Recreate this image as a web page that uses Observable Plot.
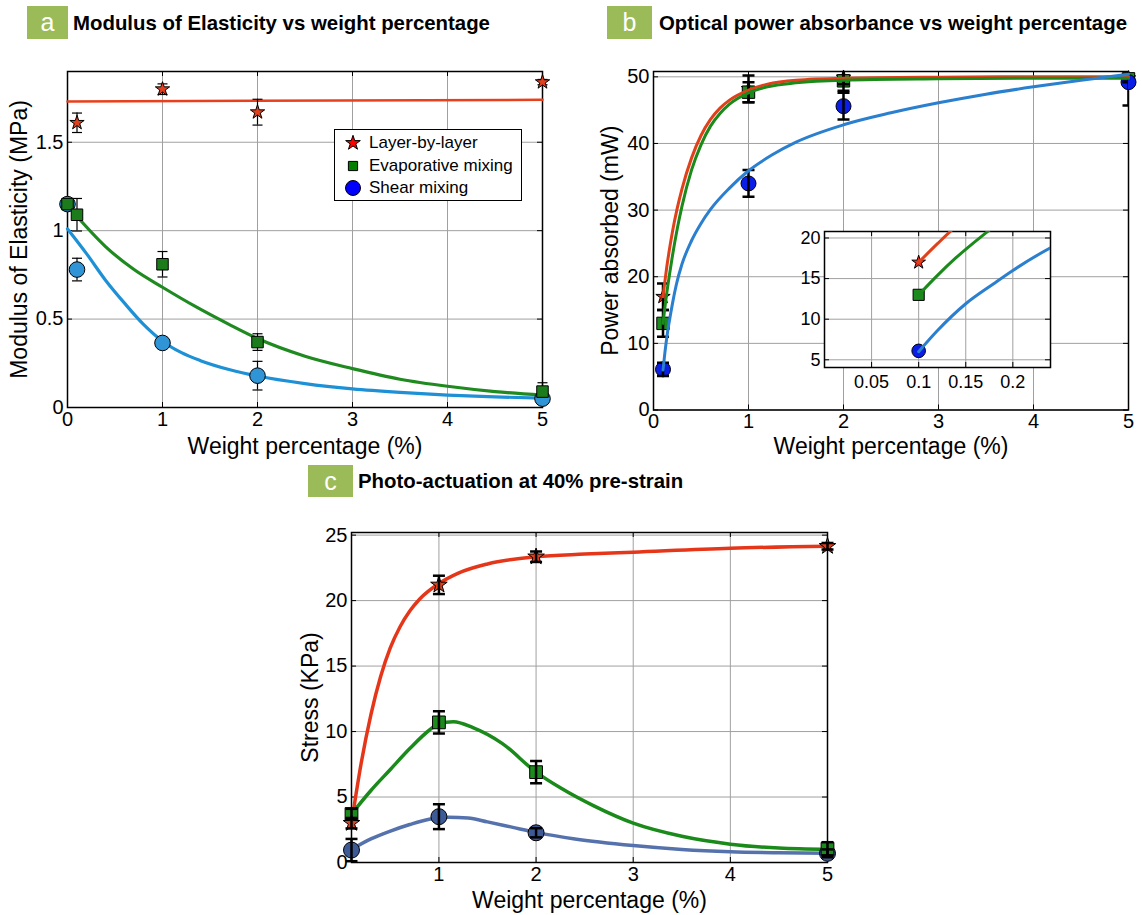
<!DOCTYPE html>
<html><head><meta charset="utf-8">
<script src="https://cdn.jsdelivr.net/npm/d3@7"></script>
<script src="https://cdn.jsdelivr.net/npm/@observablehq/plot@0.6"></script>
<style>
html,body{margin:0;padding:0;background:#fff}
#fig{position:relative;width:1142px;height:915px;overflow:hidden;background:#fff;font-family:"Liberation Sans",Arial,sans-serif}
.panel{position:absolute}
.panel svg{display:block;max-width:none;overflow:visible}
.tag{position:absolute;background:#9bbb59;color:#fff;font-size:25px;text-align:center}
.title{position:absolute;font-weight:bold;font-size:20.4px;color:#000;white-space:nowrap;line-height:22px}
.legend{position:absolute;border:1px solid #000;background:#fff;box-sizing:border-box;font-size:17px}
.legend .row{position:absolute;left:0;height:22px;line-height:22px;white-space:nowrap}
.legend svg{position:absolute;left:8px;top:1px}
.legend span{position:absolute;left:34px;top:0}
</style>
</head><body>
<div id="fig"></div>
<script>
// ---------- Panel a: Modulus of Elasticity ----------
const xTicksA = [0, 1, 2, 3, 4, 5];
const yTicksA = [0, 0.5, 1, 1.5];
const wtLblA = [0.1, 1, 2, 5];
const modLbl = [1.61, 1.80, 1.67, 1.84];
const modLblErr = [0.055, 0.03, 0.073, 0.015];
const wtMixA = [0, 0.1, 1, 2, 5];
const modEvap = [1.15, 1.09, 0.81, 0.37, 0.09];
const modEvapErr = [0, 0.092, 0.072, 0.047, 0.05];
const modShear = [1.15, 0.78, 0.365, 0.18, 0.05];
const modShearErr = [0, 0.064, 0.02, 0.081, 0.02];
const fitALblX = [0, 5];
const fitALblY = [1.73, 1.74];
const fitAEvapX = [0.1, 0.4, 0.7, 1, 1.35, 1.7, 2, 2.5, 3, 3.5, 4, 4.5, 5];
const fitAEvapY = [1.08, 0.91, 0.78, 0.68, 0.57, 0.47, 0.39, 0.29, 0.22, 0.16, 0.12, 0.09, 0.07];
const fitAShearX = [0, 0.2, 0.4, 0.6, 0.8, 1, 1.2, 1.4, 1.7, 2, 2.5, 3, 3.5, 4, 4.5, 5];
const fitAShearY = [1.01, 0.87, 0.72, 0.59, 0.47, 0.375, 0.31, 0.265, 0.215, 0.178, 0.135, 0.105, 0.085, 0.07, 0.06, 0.053];

// ---------- Panel b: Optical power absorbance ----------
const xTicksB = [0, 1, 2, 3, 4, 5];
const yTicksB = [0, 10, 20, 30, 40, 50];
const xTicksInset = [0.05, 0.1, 0.15, 0.2];
const yTicksInset = [5, 10, 15, 20];
const wtB = [0.1, 1, 2, 5];
const powLbl = [17, 48.2, 49.9, 49.8];
const powLblErr = [2, 2, 1, 0.5];
const powEvap = [13, 47.7, 49.4, 49.7];
const powEvapErr = [2, 1.5, 1.5, 0.5];
const powShear = [6.1, 34, 45.6, 49.2];
const powShearErr = [1, 2, 2, 3.5];
const fitBLblX = [0.1, 0.12, 0.14, 0.17, 0.2, 0.25, 0.3, 0.4, 0.5, 0.6, 0.7, 0.8, 1, 1.2, 1.5, 2, 3, 4, 5];
const fitBLblY = [17, 19.3, 21.5, 24.3, 26.8, 30.3, 33.2, 37.8, 41.2, 43.6, 45.3, 46.5, 48.0, 48.9, 49.5, 49.8, 49.95, 50, 50];
const fitBEvapX = [0.1, 0.12, 0.14, 0.17, 0.2, 0.25, 0.3, 0.4, 0.5, 0.6, 0.7, 0.8, 1, 1.2, 1.5, 2, 3, 4, 5];
const fitBEvapY = [13, 15.4, 17.6, 20.5, 23.2, 27.2, 30.6, 36, 39.8, 42.6, 44.5, 45.9, 47.6, 48.5, 49.1, 49.5, 49.7, 49.8, 49.8];
const fitBShearX = [0.1, 0.12, 0.15, 0.18, 0.2, 0.24, 0.3, 0.4, 0.5, 0.6, 0.8, 1, 1.25, 1.5, 2, 2.5, 3, 3.5, 4, 4.5, 5];
const fitBShearY = [6, 8.6, 11.9, 14.4, 16.0, 18.8, 21.9, 25.4, 28.0, 30.1, 33.3, 35.9, 38.3, 40.2, 42.8, 44.6, 46.1, 47.4, 48.5, 49.5, 50.4];

// ---------- Panel c: Photo-actuation ----------
const xTicksC = [1, 2, 3, 4, 5];
const yTicksC = [0, 5, 10, 15, 20, 25];
const wtC = [0.1, 1, 2, 5];
const strLbl = [3.0, 21.2, 23.35, 24.15];
const strLblErr = [0.4, 0.7, 0.4, 0.25];
const strEvap = [3.7, 10.7, 6.9, 1.05];
const strEvapErr = [0.4, 0.85, 0.85, 0.5];
const strShear = [0.95, 3.5, 2.27, 0.7];
const strShearErr = [0.85, 0.95, 0.35, 0.3];
const fitCLblX = [0.1, 0.2, 0.3, 0.4, 0.5, 0.6, 0.7, 0.8, 1, 1.2, 1.5, 2, 2.5, 3, 4, 5];
const fitCLblY = [3, 7.6, 11.3, 14.2, 16.4, 18.0, 19.2, 20.1, 21.3, 22.1, 22.8, 23.35, 23.55, 23.7, 24.0, 24.15];
const fitCEvapX = [0.1, 0.3, 0.5, 0.7, 0.9, 1.0, 1.15, 1.35, 1.65, 2, 2.25, 2.6, 3, 3.5, 4, 4.5, 5];
const fitCEvapY = [3.7, 5.5, 7.1, 8.7, 10.1, 10.6, 10.75, 10.3, 9.1, 6.9, 5.7, 4.3, 3.0, 2.0, 1.4, 1.1, 1.0];
const fitCShearX = [0.1, 0.3, 0.5, 0.7, 0.9, 1.1, 1.3, 1.5, 1.75, 2, 2.4, 3, 3.5, 4, 4.5, 5];
const fitCShearY = [1.0, 1.8, 2.4, 2.9, 3.3, 3.45, 3.4, 3.1, 2.7, 2.3, 1.8, 1.3, 1.0, 0.82, 0.74, 0.7];

const seriesNames = ["Layer-by-layer", "Evaporative mixing", "Shear mixing"];
const titles = ["Modulus of Elasticity vs weight percentage", "Optical power absorbance vs weight percentage", "Photo-actuation at 40% pre-strain"];
const xLabel = "Weight percentage (%)";
const yLabels = ["Modulus of Elasticity (MPa)", "Power absorbed (mW)", "Stress (KPa)"];

// ---------- helpers ----------
const GRID = "#a0a0a0";
const fmt = d => `${d}`;
const rows = (xs, ys) => xs.map((x, i) => ({x, y: ys[i]}));
const capSymbol = {draw(ctx, size) { const r = Math.sqrt(size / Math.PI); ctx.moveTo(-r, 0); ctx.lineTo(r, 0); }};
const baseStyle = {fontFamily: '"Liberation Sans", Arial, sans-serif', fontSize: "20px", background: "transparent", color: "black", overflow: "visible"};

function frameTicks(xt, yt, fw, fh, len = 5) {
  return [
    Plot.tickX(xt, {x: d => d, insetTop: fh - len, stroke: "black"}),
    Plot.tickX(xt, {x: d => d, insetBottom: fh - len, stroke: "black"}),
    Plot.tickY(yt, {y: d => d, insetRight: fw - len, stroke: "black"}),
    Plot.tickY(yt, {y: d => d, insetLeft: fw - len, stroke: "black"})
  ];
}
function errorBars(xs, ys, es, w, cap, clip = false) {
  const d = xs.map((x, i) => ({x, lo: ys[i] - es[i], hi: ys[i] + es[i]})).filter(r => r.hi > r.lo);
  return [
    Plot.ruleX(d, {x: "x", y1: "lo", y2: "hi", stroke: "black", strokeWidth: w, clip}),
    Plot.dot(d, {x: "x", y: "lo", symbol: capSymbol, r: cap, stroke: "black", strokeWidth: w, fill: "none", clip}),
    Plot.dot(d, {x: "x", y: "hi", symbol: capSymbol, r: cap, stroke: "black", strokeWidth: w, fill: "none", clip})
  ];
}
const pts = (xs, ys, symbol, r, fill) => Plot.dot(rows(xs, ys), {x: "x", y: "y", symbol, r, fill, stroke: "black", strokeWidth: 1});
const fit = (xs, ys, stroke, w, clip = false) => Plot.line(rows(xs, ys), {x: "x", y: "y", stroke, strokeWidth: w, curve: "monotone-x", clip});
function axes(xt, yt, xl, yl, xdy, ydx, fs = 20) {
  const out = [
    Plot.axisX(xt, {tickSize: 0, tickPadding: 4, tickFormat: fmt, label: null, fontSize: fs}),
    Plot.axisY(yt, {tickSize: 0, tickPadding: 4, tickFormat: fmt, label: null, fontSize: fs})
  ];
  if (xl) out.push(Plot.text([xl], {text: d => d, frameAnchor: "bottom", dy: xdy, textAnchor: "middle", lineAnchor: "middle", fontSize: 23}));
  if (yl) out.push(Plot.text([yl], {text: d => d, frameAnchor: "left", dx: ydx, rotate: -90, textAnchor: "middle", lineAnchor: "middle", fontSize: 23}));
  return out;
}

const fig = document.getElementById("fig");
function place(node, left, top, width) {
  const div = document.createElement("div");
  div.className = "panel";
  div.style.left = left + "px"; div.style.top = top + "px"; div.style.width = width + "px";
  div.appendChild(node);
  fig.appendChild(div);
}

// ---------- Panel a ----------
{
  const W = 560, H = 465, m = {t: 71, r: 18, b: 58, l: 67};
  const fw = W - m.l - m.r, fh = H - m.t - m.b;
  const plot = Plot.plot({
    width: W, height: H, marginTop: m.t, marginRight: m.r, marginBottom: m.b, marginLeft: m.l,
    style: baseStyle,
    x: {domain: [0, 5]}, y: {domain: [0, 1.9]},
    marks: [
      Plot.gridX(xTicksA, {stroke: GRID, strokeOpacity: 1}),
      Plot.gridY(yTicksA, {stroke: GRID, strokeOpacity: 1}),
      ...frameTicks(xTicksA, yTicksA, fw, fh),
      Plot.frame({stroke: "black", strokeWidth: 1.5}),
      fit(fitALblX, fitALblY, "#e8401c", 2.5),
      fit(fitAEvapX, fitAEvapY, "#1f8a1f", 3.2),
      fit(fitAShearX, fitAShearY, "#1e90d6", 3.2),
      ...errorBars(wtLblA, modLbl, modLblErr, 1.2, 5),
      ...errorBars(wtMixA, modEvap, modEvapErr, 1.2, 5),
      ...errorBars(wtMixA, modShear, modShearErr, 1.2, 5),
      pts(wtMixA, modShear, "circle", 7.8, "#2f95d6"),
      pts(wtMixA, modEvap, "square", 6.5, "#1c7c1c"),
      pts(wtLblA, modLbl, "star", 4.5, "#e0401e"),
      ...axes(xTicksA, yTicksA, xLabel, yLabels[0], 39, -48)
    ]
  });
  place(plot, 0, 0, W);
}

// ---------- Panel b ----------
{
  const W = 572, H = 465, m = {t: 71, r: 14, b: 55.5, l: 83};
  const fw = W - m.l - m.r, fh = H - m.t - m.b;
  const plot = Plot.plot({
    width: W, height: H, marginTop: m.t, marginRight: m.r, marginBottom: m.b, marginLeft: m.l,
    style: baseStyle,
    x: {domain: [0, 5]}, y: {domain: [0, 50.8]},
    marks: [
      Plot.gridX(xTicksB, {stroke: GRID, strokeOpacity: 1}),
      Plot.gridY(yTicksB, {stroke: GRID, strokeOpacity: 1}),
      ...frameTicks(xTicksB, yTicksB, fw, fh),
      Plot.frame({stroke: "black", strokeWidth: 1.5}),
      pts(wtB, powLbl, "star", 4.5, "#e8301c"),
      pts(wtB, powEvap, "square", 7, "#1c8a1c"),
      pts(wtB, powShear, "circle", 7.5, "#0a1ee8"),
      ...errorBars(wtB, powLbl, powLblErr, 2.5, 6, "frame"),
      ...errorBars(wtB, powEvap, powEvapErr, 2.5, 6, "frame"),
      ...errorBars(wtB, powShear, powShearErr, 2.5, 6, "frame"),
      fit(fitBLblX, fitBLblY, "#e0401a", 3),
      fit(fitBEvapX, fitBEvapY, "#1a8a1a", 3),
      fit(fitBShearX, fitBShearY, "#2a7fcf", 3),
      ...axes(xTicksB, yTicksB, xLabel, yLabels[1], 37, -43)
    ]
  });
  place(plot, 570, 0, W);
}

// ---------- Panel b inset ----------
{
  const W = 290, H = 185, m = {t: 16, r: 10, b: 33, l: 54};
  const fw = W - m.l - m.r, fh = H - m.t - m.b;
  const plot = Plot.plot({
    width: W, height: H, marginTop: m.t, marginRight: m.r, marginBottom: m.b, marginLeft: m.l,
    style: baseStyle,
    x: {domain: [0, 0.24]}, y: {domain: [4.05, 20.8]},
    marks: [
      Plot.frame({fill: "white"}),
      Plot.gridX(xTicksInset, {stroke: GRID, strokeOpacity: 1}),
      Plot.gridY(yTicksInset, {stroke: GRID, strokeOpacity: 1}),
      ...frameTicks(xTicksInset, yTicksInset, fw, fh),
      Plot.frame({stroke: "black", strokeWidth: 1.5}),
      pts([wtB[0]], [powLbl[0]], "star", 4.3, "#e8301c"),
      pts([wtB[0]], [powEvap[0]], "square", 6.3, "#1c8a1c"),
      pts([wtB[0]], [powShear[0]], "circle", 6.8, "#0a1ee8"),
      fit(fitBLblX, fitBLblY, "#e0401a", 3, "frame"),
      fit(fitBEvapX, fitBEvapY, "#1a8a1a", 3, "frame"),
      fit(fitBShearX, fitBShearY, "#2a7fcf", 3, "frame"),
      Plot.axisX(xTicksInset, {tickSize: 0, tickPadding: 8, tickFormat: fmt, label: null, fontSize: 18}),
      Plot.axisY(yTicksInset, {tickSize: 0, tickPadding: 4, tickFormat: fmt, label: null, fontSize: 18})
    ]
  });
  place(plot, 770, 215, W);
}

// ---------- Panel c ----------
{
  const W = 580, H = 455, m = {t: 72, r: 33, b: 53, l: 71};
  const fw = W - m.l - m.r, fh = H - m.t - m.b;
  const plot = Plot.plot({
    width: W, height: H, marginTop: m.t, marginRight: m.r, marginBottom: m.b, marginLeft: m.l,
    style: baseStyle,
    x: {domain: [0.1, 5]}, y: {domain: [0, 25.2]},
    marks: [
      Plot.gridX(xTicksC, {stroke: GRID, strokeOpacity: 1}),
      Plot.gridY(yTicksC, {stroke: GRID, strokeOpacity: 1}),
      ...frameTicks(xTicksC, yTicksC, fw, fh),
      Plot.frame({stroke: "black", strokeWidth: 1.5}),
      fit(fitCLblX, fitCLblY, "#e5361a", 3.5),
      fit(fitCEvapX, fitCEvapY, "#1a8a1a", 3.5),
      fit(fitCShearX, fitCShearY, "#5572ad", 3.5),
      pts(wtC, strShear, "circle", 8, "#3d5a96"),
      pts(wtC, strEvap, "square", 7.2, "#1c8a1c"),
      pts(wtC, strLbl, "star", 5.2, "#e0401e"),
      ...errorBars(wtC, strLbl, strLblErr, 2.5, 6),
      ...errorBars(wtC, strEvap, strEvapErr, 2.5, 6),
      ...errorBars(wtC, strShear, strShearErr, 2.5, 6),
      ...axes(xTicksC, yTicksC, xLabel, yLabels[2], 38, -41)
    ]
  });
  place(plot, 280, 460, W);
}

// ---------- titles ----------
const tagSpecs = [
  {t: "a", left: 27, top: 6, w: 41, h: 33, tl: 73, tt: 12},
  {t: "b", left: 607, top: 6, w: 45, h: 33, tl: 659, tt: 12},
  {t: "c", left: 308, top: 465, w: 45, h: 32, tl: 358, tt: 470}
];
tagSpecs.forEach((s, i) => {
  const tag = document.createElement("div");
  tag.className = "tag";
  Object.assign(tag.style, {left: s.left + "px", top: s.top + "px", width: s.w + "px", height: s.h + "px", lineHeight: s.h + "px"});
  tag.textContent = s.t;
  fig.appendChild(tag);
  const title = document.createElement("div");
  title.className = "title";
  Object.assign(title.style, {left: s.tl + "px", top: s.tt + "px"});
  title.textContent = titles[i];
  fig.appendChild(title);
});

// ---------- legend (panel a) ----------
{
  const leg = document.createElement("div");
  leg.className = "legend";
  Object.assign(leg.style, {left: "334px", top: "129px", width: "188px", height: "72px"});
  const syms = [
    {s: d3.symbolStar, size: Math.PI * 4.6 * 4.6, fill: "#ff0000"},
    {s: d3.symbolSquare, size: Math.PI * 5.2 * 5.2, fill: "#007f00"},
    {s: d3.symbolCircle, size: Math.PI * 7.5 * 7.5, fill: "#0000ff"}
  ];
  seriesNames.forEach((name, i) => {
    const row = document.createElement("div");
    row.className = "row";
    row.style.top = (2 + i * 22.5) + "px";
    row.style.width = "100%";
    const svg = d3.create("svg").attr("width", 20).attr("height", 20);
    svg.append("path").attr("transform", "translate(10,10)").attr("d", d3.symbol(syms[i].s, syms[i].size)())
      .attr("fill", syms[i].fill).attr("stroke", "black").attr("stroke-width", 1);
    row.appendChild(svg.node());
    const sp = document.createElement("span");
    sp.textContent = name;
    row.appendChild(sp);
    leg.appendChild(row);
  });
  fig.appendChild(leg);
}
</script>
</body></html>
